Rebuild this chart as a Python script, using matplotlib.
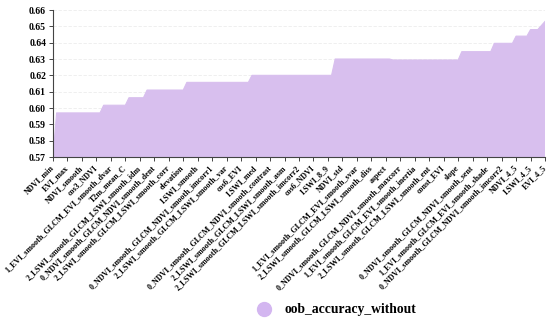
import numpy as np
import matplotlib
matplotlib.use("Agg")
import matplotlib.pyplot as plt
from matplotlib.lines import Line2D

plt.rcParams['font.family'] = ['Liberation Serif', 'DejaVu Serif']
plt.rcParams['font.weight'] = 'bold'

# shown axis labels (every 4th feature)
labels = [
    "NDVI_min", "EVI_max", "NDVI_smooth", "cos3_NDVI",
    "1_EVI_smooth_GLCM_EVI_smooth_dvar", "T2m_mean_C",
    "2_LSWI_smooth_GLCM_LSWI_smooth_idm", "0_NDVI_smooth_GLCM_NDVI_smooth_dent",
    "2_LSWI_smooth_GLCM_LSWI_smooth_corr", "elevation", "LSWI_smooth",
    "0_NDVI_smooth_GLCM_NDVI_smooth_imcorr1", "2_LSWI_smooth_GLCM_LSWI_smooth_var",
    "cos6_EVI", "LSWI_med", "0_NDVI_smooth_GLCM_NDVI_smooth_contrast",
    "2_LSWI_smooth_GLCM_LSWI_smooth_asm", "2_LSWI_smooth_GLCM_LSWI_smooth_imcorr2",
    "cos6_NDVI", "LSWI_8_9", "NDVI_std", "1_EVI_smooth_GLCM_EVI_smooth_svar",
    "2_LSWI_smooth_GLCM_LSWI_smooth_diss", "aspect",
    "0_NDVI_smooth_GLCM_NDVI_smooth_maxcorr", "1_EVI_smooth_GLCM_EVI_smooth_inertia",
    "2_LSWI_smooth_GLCM_LSWI_smooth_ent", "const_EVI", "slope",
    "0_NDVI_smooth_GLCM_NDVI_smooth_sent", "1_EVI_smooth_GLCM_EVI_smooth_shade",
    "0_NDVI_smooth_GLCM_NDVI_smooth_imcorr2", "NDVI_4_5", "LSWI_4_5", "EVI_4_5",
]

# oob accuracy after removing each feature
oob_accuracy_without = [
    0.570,
    0.597, 0.597, 0.597, 0.597, 0.597, 0.597, 0.597, 0.597, 0.597, 0.597,
    0.597, 0.597, 0.597,
    0.6017, 0.6017, 0.6017, 0.6017, 0.6017, 0.6017, 0.6017,
    0.6063, 0.6063, 0.6063, 0.6063, 0.6063,
    0.611, 0.611, 0.611, 0.611, 0.611, 0.611, 0.611, 0.611, 0.611, 0.611, 0.611,
    0.6157, 0.6157, 0.6157, 0.6157, 0.6157, 0.6157, 0.6157, 0.6157, 0.6157,
    0.6157, 0.6157, 0.6157, 0.6157, 0.6157, 0.6157, 0.6157, 0.6157, 0.6157,
    0.620, 0.620, 0.620, 0.620, 0.620, 0.620, 0.620, 0.620, 0.620, 0.620,
    0.620, 0.620, 0.620, 0.620, 0.620, 0.620, 0.620, 0.620, 0.620, 0.620,
    0.620, 0.620, 0.620,
    0.630, 0.630, 0.630, 0.630, 0.630, 0.630, 0.630, 0.630, 0.630, 0.630,
    0.630, 0.630, 0.630, 0.630, 0.630, 0.630,
    0.6294, 0.6294, 0.6294, 0.6294, 0.6294, 0.6294, 0.6294, 0.6294, 0.6294,
    0.6294, 0.6294, 0.6294, 0.6294, 0.6294, 0.6294, 0.6294, 0.6294, 0.6294,
    0.6294,
    0.6345, 0.6345, 0.6345, 0.6345, 0.6345, 0.6345, 0.6345, 0.6345, 0.6345,
    0.6396, 0.6396, 0.6396, 0.6396, 0.6396, 0.6396,
    0.644, 0.644, 0.644, 0.644,
    0.648, 0.648, 0.648,
    0.6505, 0.653,
]

y_ticks = [0.57, 0.58, 0.59, 0.60, 0.61, 0.62, 0.63, 0.64, 0.65, 0.66]

fill_color = '#d8bfee'

fig = plt.figure(figsize=(5.5, 3.25), dpi=100)
ax = fig.add_axes([53 / 550, 1 - 157 / 325, 492 / 550, 147 / 325])

x = np.arange(len(oob_accuracy_without))
ax.fill_between(x, 0, oob_accuracy_without, color=fill_color, linewidth=0)
ax.plot(x, oob_accuracy_without, color=fill_color, linewidth=0.8)

ax.set_xlim(0, len(oob_accuracy_without) - 1)
ax.set_ylim(0.57, 0.66)
ax.set_yticks(y_ticks)
ax.set_yticklabels(['%.2f' % v for v in y_ticks], fontsize=7, fontweight='bold')

ax.set_xticks(x[::4])
ax.set_xticklabels(labels, rotation=45, ha='right', va='center',
                   rotation_mode='anchor', fontsize=5.8, fontweight='bold')

ax.grid(axis='y', color='#ececec', linestyle=(0, (4, 2)), linewidth=0.6)
ax.set_axisbelow(True)
for side in ['top', 'right']:
    ax.spines[side].set_visible(False)
ax.spines['left'].set_color('#444444')
ax.spines['bottom'].set_color('#444444')
ax.tick_params(axis='y', length=3, width=0.7, color='#444444', pad=2)
ax.tick_params(axis='x', length=3, width=0.7, color='#444444', pad=4)

handle = Line2D([], [], marker='o', linestyle='none', markersize=10,
                markerfacecolor='#d3b6f0', markeredgecolor='#d3b6f0')
fig.legend([handle], ['oob_accuracy_without'], loc='center',
           bbox_to_anchor=(333 / 550, 1 - 310 / 325), frameon=False,
           prop={'family': 'Liberation Serif', 'weight': 'bold', 'size': 9.8},
           handletextpad=0.5)

fig.savefig('out.png', dpi=100)
